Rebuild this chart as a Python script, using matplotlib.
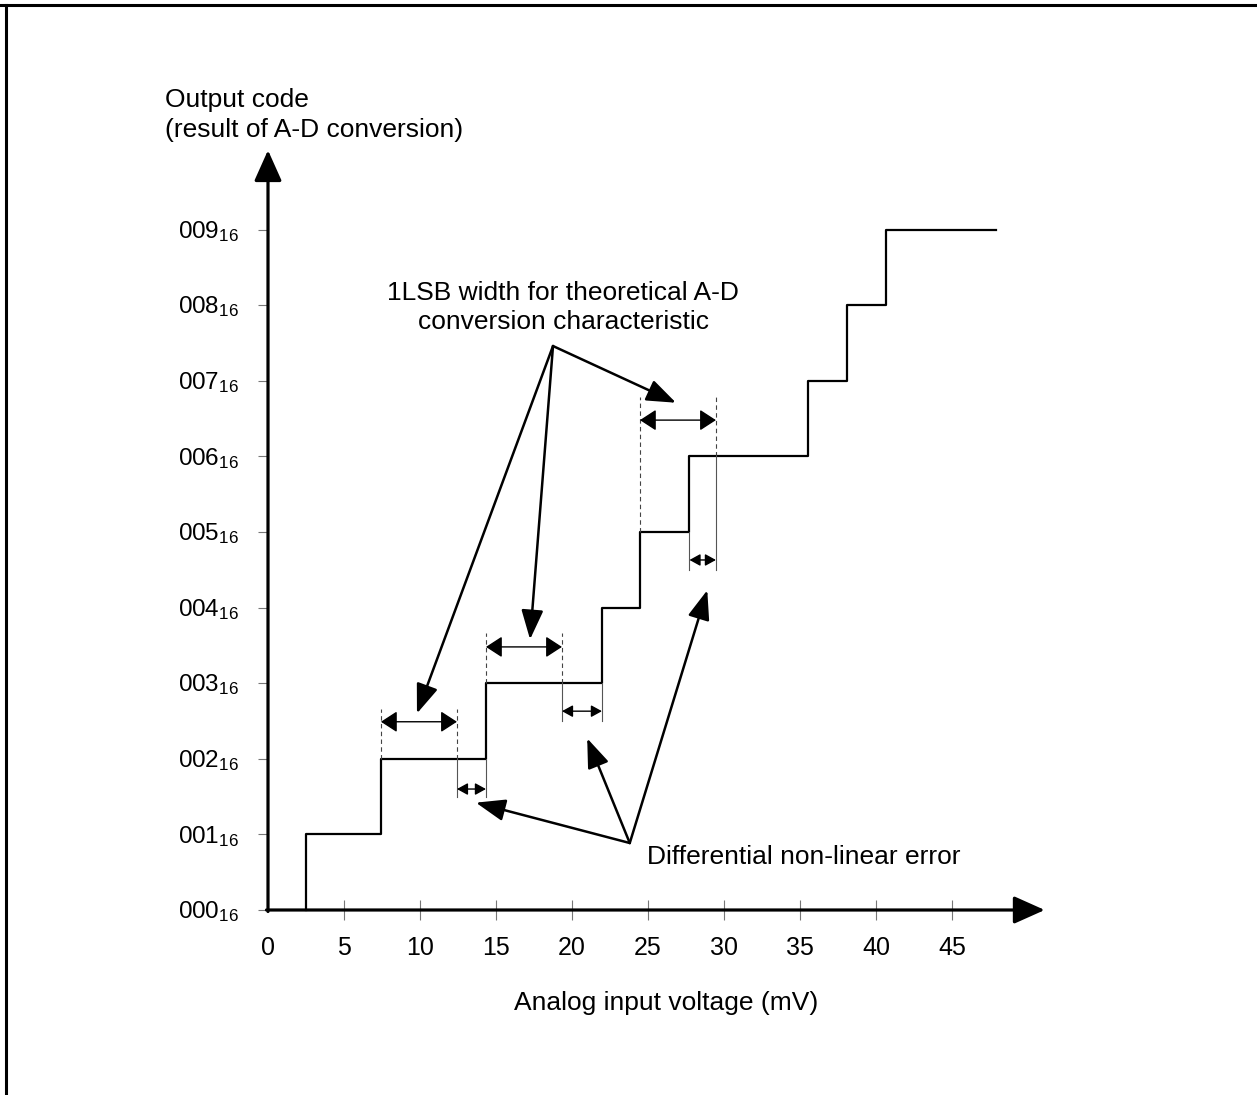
import matplotlib
matplotlib.use("Agg")
import matplotlib.pyplot as plt
from matplotlib.lines import Line2D

plt.rcParams['font.family'] = ['Liberation Sans', 'DejaVu Sans']
plt.rcParams['mathtext.fontset'] = 'custom'
plt.rcParams['mathtext.rm'] = 'Liberation Sans'

# transfer characteristic: input voltage (mV) where the output code steps up
step_mv = [2.5, 7.43, 14.34, 21.97, 24.47, 27.73, 35.53, 38.09, 40.66]
step_codes = [1, 2, 3, 4, 5, 6, 7, 8, 9]
end_mv = 47.89

x_ticks = [0, 5, 10, 15, 20, 25, 30, 35, 40, 45]
y_codes = [0, 1, 2, 3, 4, 5, 6, 7, 8, 9]
y_labels = ['000', '001', '002', '003', '004', '005', '006', '007', '008', '009']

# 1LSB (theoretical) spans: (start, end, arrow level, step level at start, step level at end, dash top)
lsb_spans = [(7.43, 12.43, 2.49, 2, 2, 2.66),
             (14.34, 19.34, 3.48, 3, 3, 3.66),
             (24.47, 29.47, 6.48, 5, 6, 6.78)]
# differential non-linear error spans: (start, end, arrow level, line top at start, line top at end, line bottom)
dnl_spans = [(12.43, 14.34, 1.60, 2, 2, 1.49),
             (19.34, 21.97, 2.63, 3, 3, 2.50),
             (27.73, 29.47, 4.63, 5, 6, 4.50)]

lsb_label_pos = (18.75, 7.46)
lsb_targets = [(9.8, 2.6), (17.24, 3.58), (26.84, 6.71)]
dnl_label_pos = (23.8, 0.886)
dnl_targets = [(13.68, 1.42), (21.0, 2.27), (28.9, 4.23)]

W, H = 1257, 1095
fig = plt.figure(figsize=(W / 100, H / 100), dpi=100)
ax = fig.add_axes([0, 0, 1, 1])
px_x, px_y = 15.2, 75.6   # pixels per mV / per code
ax.set_xlim(-268 / px_x, (W - 268) / px_x)
ax.set_ylim(-(H - 910) / px_y, 910 / px_y)
ax.axis('off')

# frame (top and left only visible)
fig.add_artist(Line2D([0, 1], [1 - 5 / H, 1 - 5 / H], color='black', lw=2.2))
fig.add_artist(Line2D([6 / W, 6 / W], [0, 1 - 5 / H], color='black', lw=2.2))

# axes with arrow heads
axis_arrow = dict(arrowstyle='-|>,head_length=1.9,head_width=0.85', mutation_scale=10,
                  lw=2.3, color='black', shrinkA=0, shrinkB=0)
ax.annotate('', xy=(0, 10.05), xytext=(0, -0.02), arrowprops=axis_arrow)
ax.annotate('', xy=(51.1, 0), xytext=(-0.1, 0), arrowprops=axis_arrow)

# ticks
ax.vlines(x_ticks[1:], -0.13, 0.13, color='#777777', lw=0.8)
ax.hlines(y_codes, -0.66, 0, color='#777777', lw=0.8)
for t in x_ticks:
    ax.text(t, -0.5, str(t), ha='center', va='center', fontsize=18)
for c, lab in zip(y_codes, y_labels):
    ax.text(-5.95, c - 0.11, r'$\mathregular{%s_{16}}$' % lab, ha='left', va='baseline', fontsize=17.5)

# staircase
xs = [step_mv[0]] + step_mv + [end_mv]
ys = [0] + step_codes + [step_codes[-1]]
ax.step(xs, ys, where='post', color='black', lw=1.6)

# 1LSB width markers
big = dict(arrowstyle='<|-|>,head_length=1.0,head_width=0.65', mutation_scale=10,
           lw=1.0, color='black', shrinkA=0, shrinkB=0)
for x0, x1, ya, b0, b1, top in lsb_spans:
    ax.plot([x0, x0], [b0, top], color='#444444', lw=0.8, ls=(0, (4, 3)))
    ax.plot([x1, x1], [b1, top], color='#444444', lw=0.8, ls=(0, (4, 3)))
    ax.annotate('', xy=(x1, ya), xytext=(x0, ya), arrowprops=big)

# differential non-linear error markers
small = dict(arrowstyle='<|-|>,head_length=1.0,head_width=0.55', mutation_scale=6.5,
             lw=1.0, color='black', shrinkA=0, shrinkB=0)
for x0, x1, ya, t0, t1, bot in dnl_spans:
    ax.plot([x0, x0], [t0, bot], color='#555555', lw=0.8)
    ax.plot([x1, x1], [t1, bot], color='#555555', lw=0.8)
    ax.annotate('', xy=(x1, ya), xytext=(x0, ya), arrowprops=small)

# callouts
call = dict(arrowstyle='-|>,head_length=1.2,head_width=0.45', mutation_scale=15,
            lw=1.8, color='black', shrinkA=0, shrinkB=0)
for tx, ty in lsb_targets:
    ax.annotate('', xy=(tx, ty), xytext=lsb_label_pos, arrowprops=call)
for tx, ty in dnl_targets:
    ax.annotate('', xy=(tx, ty), xytext=dnl_label_pos, arrowprops=call)

# texts
fs = 19
ax.text(-6.78, 10.71, 'Output code', ha='left', va='center', fontsize=fs)
ax.text(-6.78, 10.32, '(result of A-D conversion)', ha='left', va='center', fontsize=fs)
ax.text(19.41, 8.16, '1LSB width for theoretical A-D', ha='center', va='center', fontsize=fs)
ax.text(19.41, 7.78, 'conversion characteristic', ha='center', va='center', fontsize=fs)
ax.text(24.93, 0.70, 'Differential non-linear error', ha='left', va='center', fontsize=fs)
ax.text(26.2, -1.23, 'Analog input voltage (mV)', ha='center', va='center', fontsize=fs)

fig.savefig('out.png', dpi=100)
